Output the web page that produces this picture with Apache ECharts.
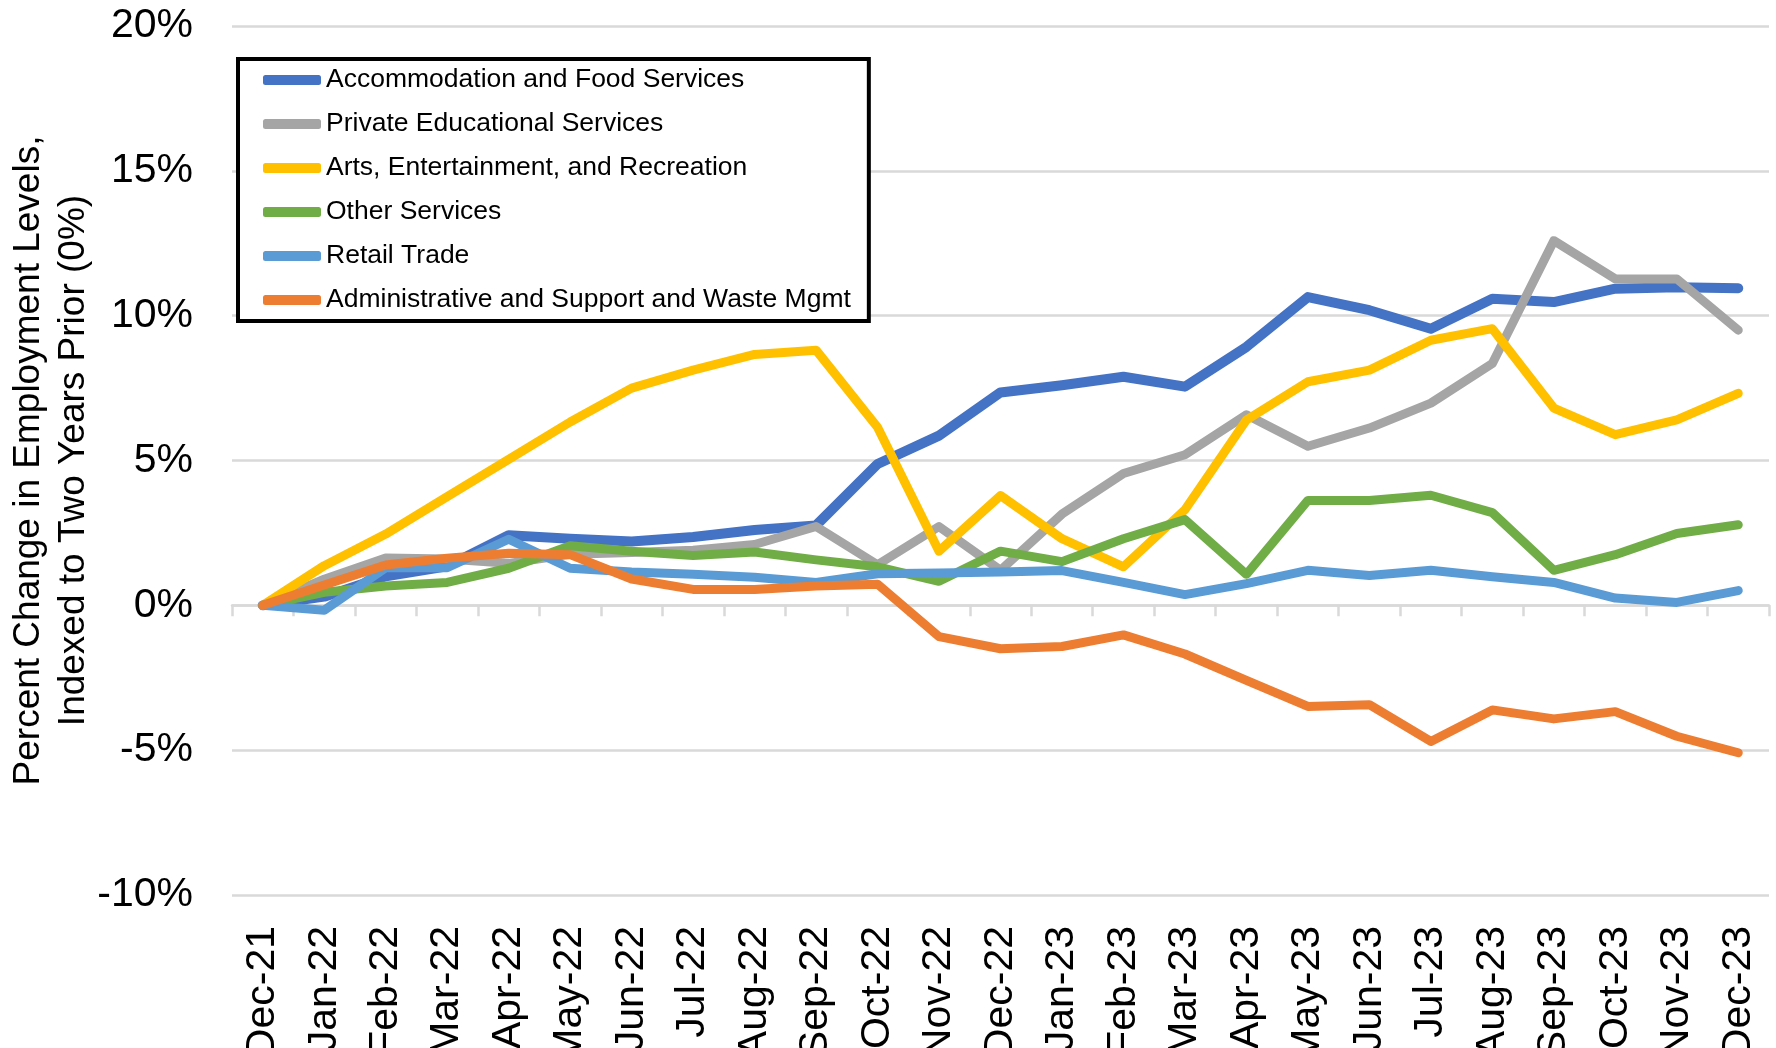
<!DOCTYPE html>
<html><head><meta charset="utf-8">
<script src="https://cdn.jsdelivr.net/npm/echarts@6/dist/echarts.min.js"></script>
<style>html,body{margin:0;padding:0;background:#fff}#c{width:1776px;height:1048px}</style>
</head><body><div id="c"></div>
<script>
const categories = ["Dec-21","Jan-22","Feb-22","Mar-22","Apr-22","May-22","Jun-22","Jul-22","Aug-22","Sep-22","Oct-22","Nov-22","Dec-22","Jan-23","Feb-23","Mar-23","Apr-23","May-23","Jun-23","Jul-23","Aug-23","Sep-23","Oct-23","Nov-23","Dec-23"];
const accommodation = [0,0.3,1.0,1.35,2.42,2.3,2.2,2.36,2.6,2.76,4.88,5.86,7.35,7.6,7.89,7.55,8.92,10.64,10.19,9.55,10.58,10.47,10.93,10.98,10.95];
const education = [0,0.9,1.63,1.6,1.45,1.76,1.82,1.9,2.1,2.72,1.4,2.72,1.21,3.15,4.55,5.2,6.58,5.49,6.12,6.98,8.35,12.59,11.27,11.27,9.5];
const arts = [0,1.37,2.46,3.75,5.04,6.33,7.5,8.12,8.66,8.81,6.15,1.87,3.79,2.3,1.33,3.3,6.4,7.72,8.12,9.15,9.55,6.81,5.89,6.4,7.32];
const otherServices = [0,0.45,0.67,0.79,1.28,2.06,1.87,1.72,1.84,1.57,1.33,0.83,1.87,1.51,2.3,2.96,1.07,3.62,3.62,3.8,3.2,1.21,1.75,2.48,2.78];
const retail = [0,-0.17,1.3,1.3,2.28,1.28,1.15,1.07,0.97,0.79,1.09,1.12,1.15,1.2,0.79,0.37,0.75,1.21,1.03,1.21,0.99,0.79,0.25,0.1,0.51];
const admin = [0,0.7,1.39,1.63,1.8,1.75,0.91,0.55,0.55,0.67,0.73,-1.08,-1.5,-1.42,-1.02,-1.68,-2.59,-3.49,-3.43,-4.7,-3.61,-3.92,-3.67,-4.52,-5.09];
const seriesNames = ["Accommodation and Food Services","Private Educational Services","Arts, Entertainment, and Recreation","Other Services","Retail Trade","Administrative and Support and Waste Mgmt"];
const seriesData = [accommodation, education, arts, otherServices, retail, admin];
const colors = ["#4472C4","#A5A5A5","#FFC000","#70AD47","#5B9BD5","#ED7D31"];
const yTicks = {min:-10, max:20, interval:5};

const font = "'Liberation Sans', Arial, sans-serif";
const chart = echarts.init(document.getElementById('c'), null, {renderer:'canvas'});
chart.setOption({
  animation:false,
  backgroundColor:'#fff',
  color: colors,
  grid:{left:232, right:7, top:26, bottom:153, containLabel:false, outerBoundsMode:'none'},
  legend:{
    orient:'vertical', left:238, top:59,
    data: seriesNames,
    icon:'roundRect', itemWidth:58, itemHeight:10,
    itemGap:14,
    padding:[6,18,6,25],
    backgroundColor:'#fff', borderColor:'#000', borderWidth:4, borderRadius:0,
    textStyle:{fontFamily:font, fontSize:26.5, color:'#000', lineHeight:30}
  },
  xAxis:[{
    type:'category', data:categories, boundaryGap:true,
    axisLine:{show:false, onZero:false}, axisTick:{show:false},
    axisLabel:{interval:0, rotate:90, margin:31, fontFamily:font, fontSize:41, color:'#000'},
    splitLine:{show:false}
  },{
    type:'category', data:categories, boundaryGap:true, position:'bottom',
    axisLine:{show:true, onZero:true, lineStyle:{color:'#d9d9d9', width:2.5}},
    axisTick:{show:true, interval:0, length:11, lineStyle:{color:'#d9d9d9', width:2.5}},
    axisLabel:{show:false}, splitLine:{show:false}
  }],
  yAxis:{
    type:'value', min:yTicks.min, max:yTicks.max, interval:yTicks.interval,
    axisLine:{show:false}, axisTick:{show:false},
    axisLabel:{formatter:'{value}%', margin:39, fontFamily:font, fontSize:41, color:'#000'},
    splitLine:{lineStyle:{color:'#d9d9d9', width:2.5}},
    name:'Percent Change in Employment Levels,\nIndexed to Two Years Prior (0%)',
    nameLocation:'middle', nameRotate:90, nameGap:136, nameMoveOverlap:false,
    nameTextStyle:{fontFamily:font, fontSize:37, color:'#000', lineHeight:45, align:'center'}
  },
  series: seriesNames.map((n,i)=>({
    name:n, type:'line', xAxisIndex:0, data:seriesData[i],
    symbol:'none', smooth:false,
    lineStyle:{width: i===0?10:9, color:colors[i], cap:'round', join:'round'},
    itemStyle:{color:colors[i]}
  }))
});
</script></body></html>
